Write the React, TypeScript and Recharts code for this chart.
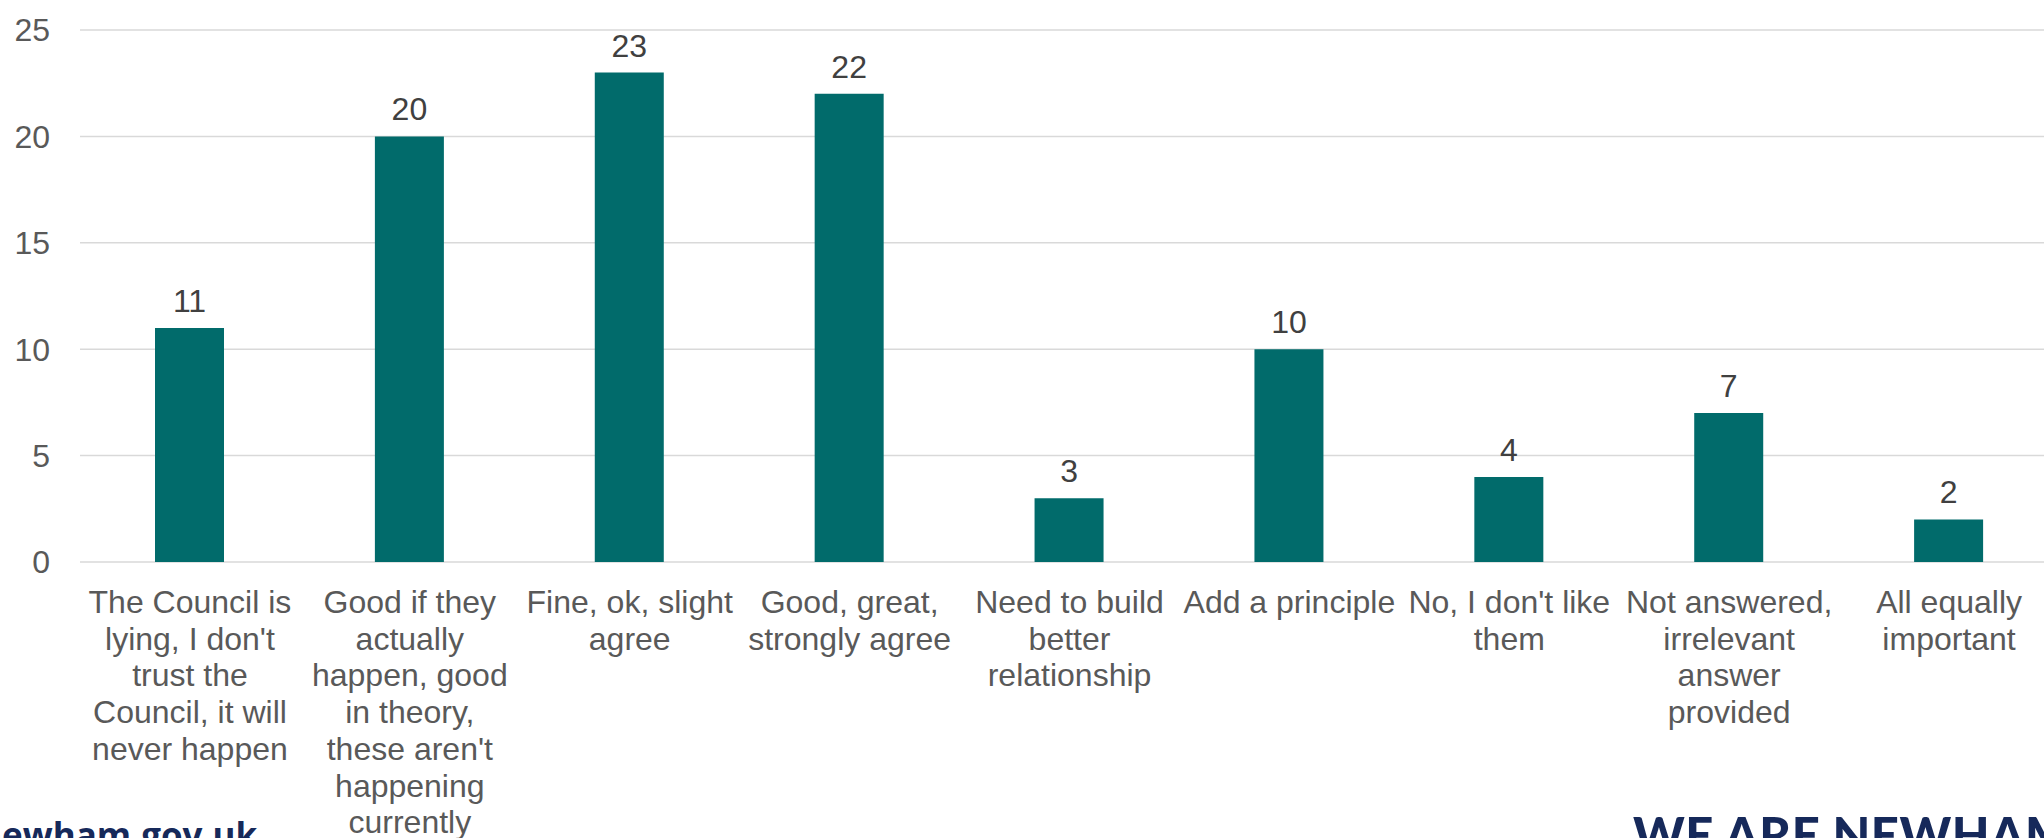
import { BarChart, Bar, XAxis, YAxis, CartesianGrid, LabelList } from "recharts";

/* ── Data ─────────────────────────────────────────────────── */
const categories = [
  "The Council is lying, I don't trust the Council, it will never happen",
  "Good if they actually happen, good in theory, these aren't happening currently",
  "Fine, ok, slight agree",
  "Good, great, strongly agree",
  "Need to build better relationship",
  "Add a principle",
  "No, I don't like them",
  "Not answered, irrelevant answer provided",
  "All equally important",
];

// wrapped the way the original axis wraps them
const categoryLines = [
  ["The Council is", "lying, I don't", "trust the", "Council, it will", "never happen"],
  ["Good if they", "actually", "happen, good", "in theory,", "these aren't", "happening", "currently"],
  ["Fine, ok, slight", "agree"],
  ["Good, great,", "strongly agree"],
  ["Need to build", "better", "relationship"],
  ["Add a principle"],
  ["No, I don't like", "them"],
  ["Not answered,", "irrelevant", "answer", "provided"],
  ["All equally", "important"],
];

const counts = [11, 20, 23, 22, 3, 10, 4, 7, 2];
const yTicks = [0, 5, 10, 15, 20, 25];

const data = categories.map((name, i) => ({ name, lines: categoryLines[i], count: counts[i] }));

const FONT = "'Liberation Sans', Arial, sans-serif";
const TEAL = "#016b6b";
const NAVY = "#16295a";

/* ── Wrapped category tick ────────────────────────────────── */
// eslint-disable-next-line @typescript-eslint/no-explicit-any
function CategoryTick(props: any) {
  const { x, y, payload } = props;
  const lines = categoryLines[payload.index] ?? [payload.value];
  return (
    <text x={x} y={y + 43} textAnchor="middle" fill="#595959" fontSize={32} fontFamily={FONT}>
      {lines.map((l: string, i: number) => (
        <tspan key={i} x={x} dy={i === 0 ? 0 : 36.7}>
          {l}
        </tspan>
      ))}
    </text>
  );
}

export default function App() {
  return (
    <div
      style={{
        position: "absolute",
        left: 0,
        top: 0,
        width: 2044,
        height: 838,
        overflow: "hidden",
        background: "#fff",
      }}
    >
      <BarChart
        width={2059}
        height={838}
        data={data}
        margin={{ top: 30, right: 0, left: 0, bottom: 0 }}
      >
        <CartesianGrid vertical={false} stroke="#d9d9d9" strokeWidth={1.5} />
        <XAxis
          dataKey="name"
          axisLine={false}
          tickLine={false}
          height={276}
          interval={0}
          tick={<CategoryTick />}
        />
        <YAxis
          domain={[0, 25]}
          ticks={yTicks}
          width={80}
          axisLine={false}
          tickLine={false}
          tickMargin={24}
          tick={{ fontSize: 32, fill: "#595959", fontFamily: FONT }}
        />
        <Bar dataKey="count" fill={TEAL} barSize={69} isAnimationActive={false}>
          <LabelList
            dataKey="count"
            position="top"
            offset={16}
            fill="#404040"
            fontSize={32}
            fontFamily={FONT}
          />
        </Bar>
      </BarChart>

      {/* slide footer, cut off by the crop */}
      <svg
        width={2044}
        height={838}
        style={{ position: "absolute", left: 0, top: 0, pointerEvents: "none" }}
      >
        <text x={-21} y={848} fill={NAVY} fontSize={35} fontWeight={700} fontFamily="'Open Sans', sans-serif">
          newham.gov.uk
        </text>
        <text x={1633} y={853} fill={NAVY} fontSize={49} fontWeight={900} fontFamily="Lato, sans-serif" letterSpacing={0.5}>
          WE ARE NEWHAM
        </text>
      </svg>
    </div>
  );
}
